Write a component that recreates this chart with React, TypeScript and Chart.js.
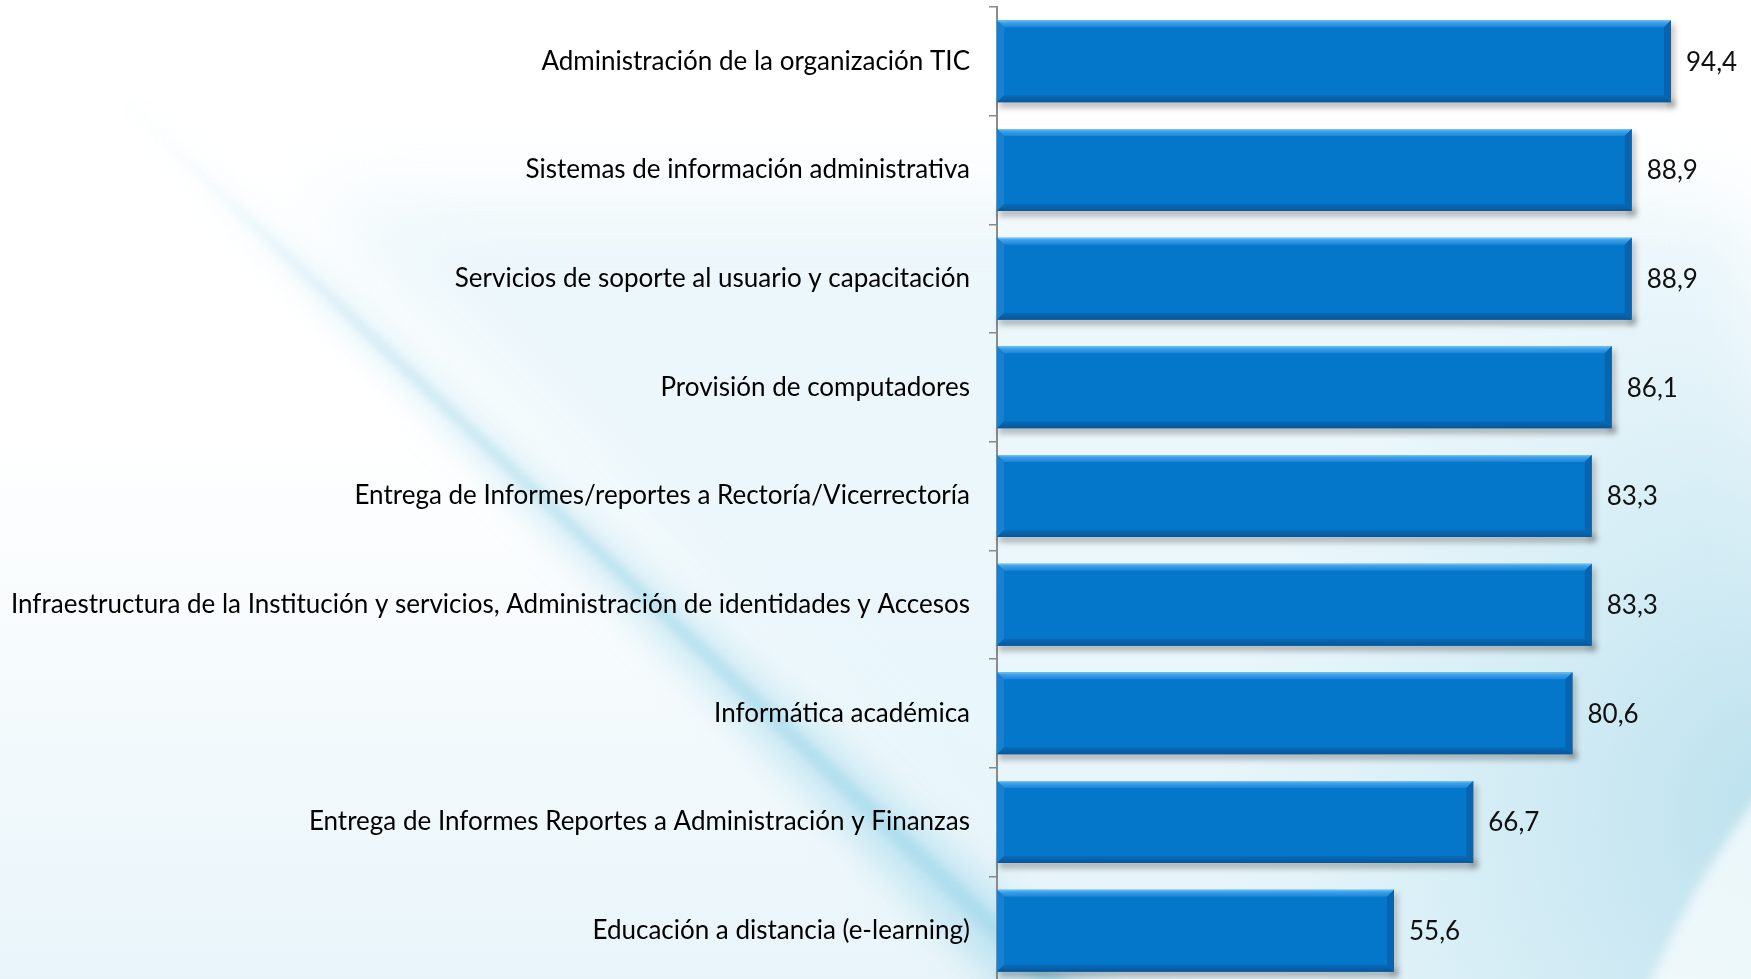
import React, { useEffect, useRef } from "react";
import { Chart, registerables } from "chart.js";

Chart.register(...registerables);

const categories = [
  "Administración de la organización TIC",
  "Sistemas de información administrativa",
  "Servicios de soporte al usuario y capacitación",
  "Provisión de computadores",
  "Entrega de Informes/reportes a Rectoría/Vicerrectoría",
  "Infraestructura de la Institución y servicios, Administración de identidades y Accesos",
  "Informática académica",
  "Entrega de Informes Reportes a Administración y Finanzas",
  "Educación a distancia (e-learning)",
];
const values = [94.4, 88.9, 88.9, 86.1, 83.3, 83.3, 80.6, 66.7, 55.6];
const xMin = 0;
const xMax = 100;

const FONT = "Lato";
const LABEL_SIZE = 26;
const VALUE_SIZE = 26;

const fmt = (v: number) => v.toFixed(1).replace(".", ",");

const backgroundPlugin = {
  id: "bgDecor",
  beforeDraw(chart: any) {
    const ctx = chart.ctx as CanvasRenderingContext2D;
    const w = chart.width;
    const h = chart.height;
    ctx.save();
    ctx.fillStyle = "#ffffff";
    ctx.fillRect(0, 0, w, h);

    // lower tint
    const g = ctx.createLinearGradient(0, 420, 0, h);
    g.addColorStop(0, "rgba(226,242,248,0)");
    g.addColorStop(1, "rgba(222,240,247,0.7)");
    ctx.fillStyle = g;
    ctx.fillRect(0, 420, w, h - 420);

    // bluish area right of the streak
    ctx.filter = "blur(40px)";
    ctx.fillStyle = "rgba(228,243,249,0.7)";
    ctx.beginPath();
    ctx.moveTo(300, 200);
    ctx.lineTo(1751, 200);
    ctx.lineTo(1751, 1000);
    ctx.lineTo(1100, 1000);
    ctx.closePath();
    ctx.fill();

    // right haze
    ctx.filter = "none";
    const r = ctx.createRadialGradient(w + 60, h * 0.82, 0, w + 60, h * 0.82, 600);
    r.addColorStop(0, "rgba(180,222,236,0.95)");
    r.addColorStop(0.55, "rgba(198,230,241,0.55)");
    r.addColorStop(1, "rgba(210,236,245,0)");
    ctx.fillStyle = r;
    ctx.fillRect(0, 0, w, h);

    // streak haze
    ctx.filter = "blur(16px)";
    const lg = ctx.createLinearGradient(108, 89, 1040, 985);
    lg.addColorStop(0, "rgba(190,228,241,0)");
    lg.addColorStop(0.25, "rgba(190,228,241,0.4)");
    lg.addColorStop(1, "rgba(180,224,239,0.75)");
    ctx.fillStyle = lg;
    ctx.beginPath();
    ctx.moveTo(106, 86);
    ctx.lineTo(114, 86);
    ctx.lineTo(1110, 990);
    ctx.lineTo(1000, 990);
    ctx.closePath();
    ctx.fill();

    // streak core
    ctx.filter = "blur(5px)";
    const lg2 = ctx.createLinearGradient(108, 89, 1050, 985);
    lg2.addColorStop(0, "rgba(170,220,237,0)");
    lg2.addColorStop(0.3, "rgba(170,220,237,0.5)");
    lg2.addColorStop(1, "rgba(165,218,236,0.8)");
    ctx.fillStyle = lg2;
    ctx.beginPath();
    ctx.moveTo(108, 88);
    ctx.lineTo(112, 88);
    ctx.lineTo(1075, 990);
    ctx.lineTo(1045, 990);
    ctx.closePath();
    ctx.fill();

    // white swoosh at bottom right
    ctx.filter = "blur(6px)";
    ctx.fillStyle = "rgba(250,253,254,0.75)";
    ctx.beginPath();
    ctx.moveTo(w + 20, 780);
    ctx.quadraticCurveTo(1690, 880, 1640, h + 20);
    ctx.lineTo(w + 20, h + 20);
    ctx.closePath();
    ctx.fill();
    ctx.filter = "none";
    ctx.restore();
  },
};

const barDecorPlugin = {
  id: "barDecor",
  beforeDatasetsDraw(chart: any) {
    const ctx = chart.ctx as CanvasRenderingContext2D;
    const meta = chart.getDatasetMeta(0);
    ctx.save();
    ctx.filter = "blur(3px)";
    ctx.fillStyle = "rgba(60,60,60,0.4)";
    meta.data.forEach((bar: any) => {
      const p = bar.getProps(["x", "y", "base", "height"], true);
      const top = p.y - p.height / 2;
      const bottom = p.y + p.height / 2;
      ctx.fillRect(p.base + 2, bottom - 2, p.x - p.base + 2, 7);
      ctx.fillRect(p.x - 2, top + 4, 5, bottom - top);
    });
    ctx.restore();
  },
  afterDatasetsDraw(chart: any) {
    const ctx = chart.ctx as CanvasRenderingContext2D;
    const meta = chart.getDatasetMeta(0);
    ctx.save();
    meta.data.forEach((bar: any, i: number) => {
      const p = bar.getProps(["x", "y", "base", "height"], true);
      const L = p.base;
      const R = p.x;
      const T = p.y - p.height / 2;
      const B = p.y + p.height / 2;
      const b = 7;
      // top bevel
      const tg = ctx.createLinearGradient(0, T, 0, T + b);
      tg.addColorStop(0, "#7cc6f3");
      tg.addColorStop(0.3, "#3fa2ea");
      tg.addColorStop(1, "#1a86d8");
      ctx.fillStyle = tg;
      ctx.beginPath();
      ctx.moveTo(L, T);
      ctx.lineTo(R, T);
      ctx.lineTo(R - b, T + b);
      ctx.lineTo(L + b, T + b);
      ctx.closePath();
      ctx.fill();
      // left bevel
      ctx.fillStyle = "#1780d2";
      ctx.beginPath();
      ctx.moveTo(L, T);
      ctx.lineTo(L + b, T + b);
      ctx.lineTo(L + b, B - b);
      ctx.lineTo(L, B);
      ctx.closePath();
      ctx.fill();
      // bottom bevel
      const bg = ctx.createLinearGradient(0, B - b, 0, B);
      bg.addColorStop(0, "#066cbc");
      bg.addColorStop(1, "#0a5596");
      ctx.fillStyle = bg;
      ctx.beginPath();
      ctx.moveTo(L, B);
      ctx.lineTo(R, B);
      ctx.lineTo(R - b, B - b);
      ctx.lineTo(L + b, B - b);
      ctx.closePath();
      ctx.fill();
      // right bevel
      ctx.fillStyle = "#0664b0";
      ctx.beginPath();
      ctx.moveTo(R, T);
      ctx.lineTo(R, B);
      ctx.lineTo(R - b, B - b);
      ctx.lineTo(R - b, T + b);
      ctx.closePath();
      ctx.fill();

      // value label
      ctx.fillStyle = "#111111";
      ctx.font = `${VALUE_SIZE}px ${FONT}`;
      ctx.textAlign = "left";
      ctx.textBaseline = "middle";
      ctx.fillText(fmt(values[i]), R + 15, p.y + 1);
    });
    ctx.restore();
  },
};

export default function App() {
  const ref = useRef<HTMLCanvasElement | null>(null);
  useEffect(() => {
    if (!ref.current) return;
    const chart = new Chart(ref.current, {
      type: "bar",
      data: {
        labels: categories,
        datasets: [
          {
            data: values,
            backgroundColor: "#0577cb",
            borderWidth: 0,
            barPercentage: 0.755,
            categoryPercentage: 1,
          },
        ],
      },
      options: {
        indexAxis: "y",
        responsive: false,
        animation: false,
        devicePixelRatio: 1,
        layout: { padding: { left: 0, right: 40, top: 7, bottom: 5 } },
        plugins: {
          legend: { display: false },
          tooltip: { enabled: false },
          title: { display: false },
        },
        scales: {
          x: { display: false, min: xMin, max: xMax },
          y: {
            type: "category",
            grid: {
              display: true,
              drawOnChartArea: false,
              drawTicks: true,
              tickLength: 8,
              offset: true,
              color: "#8a8a8a",
              lineWidth: 1.5,
            },
            border: { display: true, color: "#8a8a8a", width: 2 },
            ticks: {
              padding: 19,
              color: "#000000",
              autoSkip: false,
              font: { family: FONT, size: LABEL_SIZE },
            },
            afterFit(scale: any) {
              scale.width = 997;
              scale.paddingTop = 0;
              scale.paddingBottom = 0;
            },
          },
        },
      },
      plugins: [backgroundPlugin, barDecorPlugin],
    });
    return () => chart.destroy();
  }, []);
  return (
    <div
      style={{
        position: "fixed",
        left: 0,
        top: 0,
        width: 1751,
        height: 979,
        overflow: "hidden",
      }}
    >
      <canvas ref={ref} width={1751} height={990} style={{ display: "block" }} />
    </div>
  );
}
